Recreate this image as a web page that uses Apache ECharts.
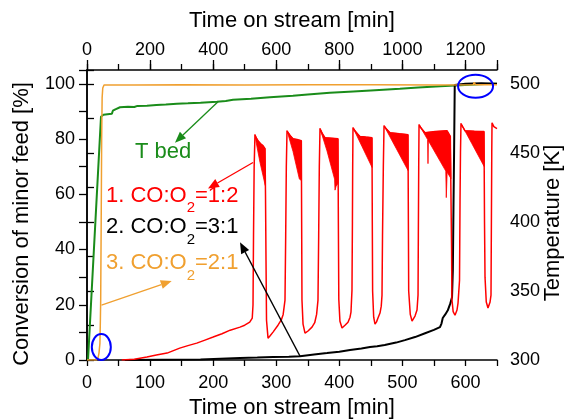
<!DOCTYPE html>
<html><head><meta charset="utf-8">
<script src="https://cdn.jsdelivr.net/npm/echarts@6/dist/echarts.min.js"></script>
<style>html,body{margin:0;padding:0;background:#fff}#c{width:570px;height:419px}</style>
</head><body><div id="c"></div>
<script>
// ---- data ----
// case 1: CO:O2 = 1:2 (bottom time axis, min; conversion %)
const case1 = [
[55,0],[75,0.3],[95,1.1],[110,1.8],[127,2.5],[147,4.3],[160,5.2],[174,6.1],[187,7.2],[200,8.3],[214,9.5],[227,10.8],[242.6,11.9],[250,12.6],[258,13.7],[262,15.2],[263.2,20],[264,45],[265,70],[266.3,81.6],
[268,80.5],[271.1,79.4],[275,78.3],[279,77.6],[282.2,76.5],
[283,60],[283.8,36],[284.6,14.4],[287,7.9],[290,8.7],[294.9,10.1],[302.8,12.6],[308,14.5],[311,16.5],[313.9,21.7],[315,45],[316,70],[317.1,83.0],
[321,81.5],[326.6,80.1],[333,79.8],[339.8,79.4],
[340.3,50],[340.8,21.7],[342.5,13],[345.6,9.7],[350.4,10.5],[356.7,11.9],[361,13.5],[364,16.5],[366.2,21.7],[367.3,45],[368.3,70],[369.4,83.8],
[373,81.8],[377.3,80.5],[388,80.3],[397.9,80.1],
[398.5,50],[399.2,22],[401,14],[404.3,11.6],[409,12.6],[413.8,13.7],[417,15.5],[418.5,17.3],[420.1,25.3],[420.8,50],[421.2,70],[421.7,84.1],
[426,82.5],[432.8,80.9],[442,80.7],[451.8,80.5],
[452.3,50],[452.8,25],[454.5,15.5],[456.6,13.0],[459,13.8],[461.3,15.2],[464.5,17.0],[466.5,19.5],[467.7,23.5],[468.5,45],[469.8,70],[470.9,84.8],
[475,83.5],[480.4,82.3],[495,81.9],[508.9,81.6],
[509.5,50],[510,25],[512.5,16.5],[515.3,14.1],[518,14.7],[520,15.9],[523.2,18.1],[524.8,23.5],[525.3,45],[525.9,70],[526.4,85.2],
[530,83.8],[535.9,82.3],[552,82.7],[570.7,83.0],[576,81],
[577,60],[578,40],[578.5,22],[580.5,17.5],[583.4,16.2],[586.6,18.1],[588.2,20.6],[590.6,28.9],[591.4,57.8],[592.1,75],[592.9,85.6],
[596,84.3],[599.3,83.0],[614,82.8],[629.4,82.7],
[630.2,50],[631,30],[633,21],[635.7,18.8],[638.9,20.9],[640.5,23.5],[641.3,57.8],[641.7,75],[642.1,85.9],
[645,84.5],[650,83.8]];
// dense oscillation bands of case 1 (outline of each filled band)
const case1Bands = [
 [[266.3,81.6],[271.1,79.4],[279,77.6],[282.2,76.5],[282.6,63.2],[274.3,71.5],[268,79.0]],
 [[317.1,83.0],[326.6,80.1],[339.8,79.4],[340,65],[336.7,65.5],[326.6,75.5]],
 [[369.4,83.8],[377.3,80.5],[397.9,80.1],[398.2,64],[395,63],[393.2,61.5],[392.5,65.5],[380.5,75.7]],
 [[421.7,84.1],[432.8,80.9],[451.8,80.5],[452,69.7],[436,77.3]],
 [[470.9,84.8],[480.4,82.3],[508.9,81.6],[509,68.6],[490,76.7]],
 [[526.4,85.2],[535.9,82.3],[552,82.7],[570.7,83.0],[576,81],[577,65.7],[571,68],[569.6,58.8],[568.8,68.4],[541.2,79.4],[540.6,71.1],[540,79.8]],
 [[592.9,85.6],[599.3,83.0],[614,82.8],[629.4,82.7],[629.8,70],[610,78.4]]
];
// case 2: CO:O2 = 3:1 (bottom time axis, min; conversion %)
const case2 = [[60,0],[120,0.1],[180,0.2],[242.6,0.7],[270,0.9],[295,1.1],[320,1.2],[337.7,1.4],[360,2.0],[380.5,2.5],[400,3.0],[417,3.6],[435,4.2],[448.7,4.7],[460,5.0],[472,5.4],[490,6.3],[504,7.2],[520,8.3],[536,9.7],[550,10.9],[559.6,11.9],[562,13.2],[564,15.2],[568,16.5],[572,18],[576,20.5],[578.7,22.7],[580,32.5],[581,55],[582,75.8],[583,99.6],[600,100],[625,100.2],[650,100]];
// case 3: CO:O2 = 2:1 (top time axis, min; conversion %)
const case3 = [[0,0],[30,0],[35,0.8],[38,2.5],[41,6],[42.5,15],[43.4,21.7],[45,50],[46.5,80],[48,95],[50,98.5],[54,99.6],[150,99.6],[300,99.7],[500,99.6],[700,99.7],[900,99.7],[1100,99.6],[1225,99.7],[1228,100.6],[1231,99.7],[1300,99.7]];
// bed temperature (top time axis, min; K)
const tBed = [[3.2,300],[44.4,476.2],[48,477],[52,477.6],[65,478],[79,478.4],[82,480.5],[90,481.5],[104.6,483],[130,483.4],[150,483.2],[160,484],[190,484.1],[220,484.6],[250,485],[285,485.6],[287,486.6],[289,485.7],[320,485.9],[360,486.3],[412,487],[440,487.6],[463,488.5],[520,489.2],[580,490.2],[653,491.3],[700,492.2],[770,493.5],[830,494.3],[900,495.2],[992,496.4],[1050,497.3],[1120,498.2],[1214,499.3],[1260,499.8],[1300,500]];
// tick labels
const bottomTickLabels = [0,100,200,300,400,500,600];
const topTickLabels = [0,200,400,600,800,1000,1200];
const leftTickLabels = [0,20,40,60,80,100];
const rightTickLabels = [300,350,400,450,500];

// ---- chart ----
const FONT = '"Liberation Sans", Arial, Helvetica, sans-serif';
const chart = echarts.init(document.getElementById('c'), null, {renderer:'canvas'});
const axisLine = {show:true, lineStyle:{color:'#000', width:1.5}};
const tickStyle = {color:'#000', width:1.3};
const lbl = (list) => ({color:'#000', fontSize:18, fontFamily:FONT,
  formatter: v => list.indexOf(Math.round(v*1000)/1000) >= 0 ? String(v) : ''});

const option = {
  animation:false,
  backgroundColor:'#fff',
  grid:{left:87, right:73, top:70, bottom:59, containLabel:false, outerBoundsMode:'none'},
  xAxis:[
    {type:'value', position:'bottom', min:0, max:650, interval:50,
     axisLine, axisTick:{show:true, length:6, lineStyle:tickStyle},
     axisLabel:Object.assign(lbl(bottomTickLabels), {margin:14}),
     splitLine:{show:false},
     name:'Time on stream [min]', nameLocation:'middle', nameGap:35,
     nameTextStyle:{fontSize:22, color:'#000', fontFamily:FONT}},
    {type:'value', position:'top', min:0, max:1300, interval:100,
     axisLine, axisTick:{show:true, length:6, lineStyle:tickStyle},
     axisLabel:Object.assign(lbl(topTickLabels), {margin:11}),
     splitLine:{show:false},
     name:'Time on stream [min]', nameLocation:'middle', nameGap:38,
     nameTextStyle:{fontSize:22, color:'#000', fontFamily:FONT}},
    {type:'value', position:'top', min:0, max:1300, interval:200,
     axisLine:{show:false}, axisTick:{show:true, length:10, lineStyle:tickStyle},
     axisLabel:{show:false}, splitLine:{show:false}}
  ],
  yAxis:[
    {type:'value', position:'left', min:0, max:105, interval:10,
     axisLine, axisTick:{show:true, length:8, lineStyle:tickStyle},
     axisLabel:Object.assign(lbl(leftTickLabels), {margin:12}),
     splitLine:{show:false}},
    {type:'value', position:'right', min:300, max:510, interval:25,
     axisLine, axisTick:{show:true, length:7, lineStyle:tickStyle},
     axisLabel:Object.assign(lbl(rightTickLabels), {margin:13}),
     splitLine:{show:false}}
  ],
  series:[
    {name:'T bed', type:'line', xAxisIndex:1, yAxisIndex:1, data:tBed, showSymbol:false, symbol:'none',
     lineStyle:{color:'#1a8c1a', width:2}, z:2},
    {name:'case2', type:'line', xAxisIndex:0, yAxisIndex:0, data:case2, symbol:'none',
     lineStyle:{color:'#000', width:2}, z:3},
    {name:'case3', type:'line', xAxisIndex:1, yAxisIndex:0, data:case3, symbol:'none',
     lineStyle:{color:'#f0a030', width:1.5}, z:4},
    {name:'case1band', type:'custom', xAxisIndex:0, yAxisIndex:0,
     data:case1Bands.map(b => [b[0][0], b[0][1]]), encode:{x:0, y:1},
     renderItem:(params, api) => ({type:'polygon',
        shape:{points:case1Bands[params.dataIndex].map(p => api.coord(p))},
        style:{fill:'#ff0000', stroke:'#ff0000', lineWidth:0.8}}), z:5},
    {name:'case1', type:'line', xAxisIndex:0, yAxisIndex:0, data:case1, symbol:'none',
     lineStyle:{color:'#ff0000', width:1.5}, z:6}
  ]
};
chart.setOption(option);

// ---- annotations (in data coordinates of bottom / left axes) ----
const arrows = [
  {from:[207.7,93.5], to:[139.5,78.7], color:'#1a8c1a'},
  {from:[263.2,71.5], to:[191.8,62.1], color:'#ff0000'},
  {from:[337.7,1.4], to:[242.6,42.6], color:'#000'},
  {from:[23,19.9], to:[134.3,28.6], color:'#f0a030'}
];
const ellipses = [
  {c:[22.7,4.7], rx:9.5, ry:13},
  {c:[616,99.1], rx:17.5, ry:11.5}
];
const px = p => chart.convertToPixel({xAxisIndex:0, yAxisIndex:0}, p);
const g = [];
arrows.forEach(a => {
  const p0 = px(a.from), p1 = px(a.to);
  const dx = p1[0]-p0[0], dy = p1[1]-p0[1], L = Math.hypot(dx,dy), ux = dx/L, uy = dy/L;
  const hl = 11, hw = 4.5, bx = p1[0]-ux*hl, by = p1[1]-uy*hl;
  g.push({type:'line', z:100, silent:true, shape:{x1:p0[0], y1:p0[1], x2:bx, y2:by}, style:{stroke:a.color, lineWidth:1.3}});
  g.push({type:'polygon', z:100, silent:true, shape:{points:[[p1[0],p1[1]],[bx-uy*hw,by+ux*hw],[bx+uy*hw,by-ux*hw]]}, style:{fill:a.color}});
});
ellipses.forEach(e => {
  const c = px(e.c);
  g.push({type:'ellipse', z:101, silent:true, shape:{cx:c[0], cy:c[1], rx:e.rx, ry:e.ry}, style:{fill:null, stroke:'#0000ff', lineWidth:2}});
});
function ratioText(prefix, suffix, color, x, y) {
  return {type:'text', z:102, x:x, y:y, style:{
    text:'{a|' + prefix + '}{s|2}{a|' + suffix + '}',
    align:'left', verticalAlign:'top',
    rich:{
      a:{fontSize:22, fontFamily:FONT, fill:color, lineHeight:24, padding:[0,0,8,0]},
      s:{fontSize:15, fontFamily:FONT, fill:color, lineHeight:15, padding:[17,0,0,0]}
    }}};
}
g.push({type:'text', z:102, x:135, y:152, style:{text:'T bed', fontSize:22, fontFamily:FONT, fill:'#1a8c1a', align:'left', verticalAlign:'middle'}});
g.push(ratioText('1. CO:O', '=1:2', '#ff0000', 106, 187.5));
g.push(ratioText('2. CO:O', '=3:1', '#000000', 106, 219));
g.push(ratioText('3. CO:O', '=2:1', '#f0a030', 106, 255));
g.push({type:'text', z:102, x:22, y:224, rotation:Math.PI/2, style:{text:'Conversion of minor feed [%]', fontSize:22, fontFamily:FONT, fill:'#000', align:'center', verticalAlign:'middle'}});
g.push({type:'text', z:102, x:553, y:223, rotation:Math.PI/2, style:{text:'Temperature [K]', fontSize:22, fontFamily:FONT, fill:'#000', align:'center', verticalAlign:'middle'}});
chart.setOption({graphic:{elements:g}});
</script>
</body></html>
